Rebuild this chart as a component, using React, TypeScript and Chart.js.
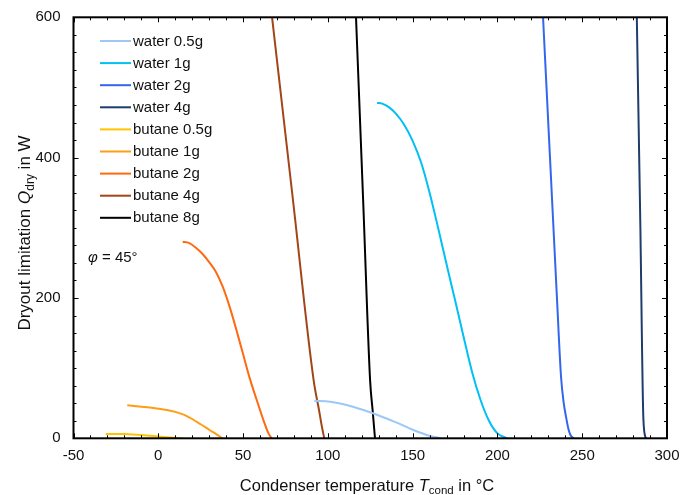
import React, { useEffect, useRef } from "react";
import { Chart, registerables } from "chart.js";

Chart.register(...registerables);

const FONT = '"Liberation Sans", Arial, Helvetica, sans-serif';

// ---- data ----
const seriesLabels = [
  "water 0.5g",
  "water 1g",
  "water 2g",
  "water 4g",
  "butane 0.5g",
  "butane 1g",
  "butane 2g",
  "butane 4g",
  "butane 8g",
];
const seriesColors = [
  "#9CC8F5",
  "#00C0F5",
  "#3366EE",
  "#1F3D6B",
  "#FFC400",
  "#FF9E14",
  "#FF6A10",
  "#A2461A",
  "#000000",
];

const water05T = [92, 101.3, 111.1, 121, 130.8, 140.6, 150.4, 160.3, 166.8];
const water05Q = [53.6, 52.2, 47.5, 40.3, 31.8, 22.3, 11.8, 3.3, 0];

const water1T = [129, 132, 136, 140, 145, 150, 155, 160, 165, 170, 175, 180, 185, 190, 195, 200, 205.7];
const water1Q = [478, 477, 472, 463, 447, 424, 393, 350, 300, 248, 197, 145, 95, 55, 25, 7, 0];

const water2T = [226.9, 231, 235, 237.5, 239, 240.5, 241.8, 243, 244.8];
const water2Q = [600, 400, 205, 88, 52, 30, 14, 5, 0];

const water4T = [282.2, 284.3, 286.1, 287.5];
const water4Q = [600, 300, 26, 0];

const butane05T = [-31, -25, -20, -15, -10, -5, 0, 5, 10, 14];
const butane05Q = [6.1, 6.2, 6.0, 5.5, 4.7, 3.7, 2.6, 1.6, 0.7, 0];

const butane1T = [-18.3, -10, -5, 0, 5, 10, 15, 20, 25, 30, 35, 37.8];
const butane1Q = [47, 45, 43.8, 42.2, 40.3, 37.7, 33.8, 27.5, 20, 12.2, 4.5, 0];

const butane2T = [14.4, 18, 22, 26, 30, 34, 38, 42, 46, 50, 54, 58, 62, 65, 66.9];
const butane2Q = [280.2, 278.5, 272, 263, 251, 237, 216, 188, 155, 120, 85, 55, 26, 7, 0];

const butane4T = [67.1, 79.4, 91.6, 94.8, 96.6, 97.9];
const butane4Q = [600, 340, 83, 40, 15, 0];

const butane8T = [116.6, 120.8, 124.9, 126.4, 127.8];
const butane8Q = [600, 340, 83, 40, 0];

const seriesT = [water05T, water1T, water2T, water4T, butane05T, butane1T, butane2T, butane4T, butane8T];
const seriesQ = [water05Q, water1Q, water2Q, water4Q, butane05Q, butane1Q, butane2Q, butane4Q, butane8Q];

const xMin = -50;
const xMax = 300;
const xStep = 50;
const xMinorStep = 10;
const yMin = 0;
const yMax = 600;
const yStep = 200;
const yMinorStep = 25;

const annotationPhi = "φ";
const annotationRest = " = 45°";
const xTitleMain = "Condenser temperature ";
const xTitleVar = "T";
const xTitleSub = "cond";
const xTitleEnd = " in °C";
const yTitleMain = "Dryout limitation ";
const yTitleVar = "Q";
const yTitleSub = "dry";
const yTitleEnd = " in W";

// ---- plugins ----
const framePlugin = {
  id: "frameTicks",
  afterDatasetsDraw(chart: any) {
    const { ctx, chartArea, scales } = chart;
    const { left, right, top, bottom } = chartArea;
    const xs = scales.x;
    const ys = scales.y;
    ctx.save();
    ctx.strokeStyle = "#000";
    ctx.lineWidth = 1;
    ctx.beginPath();
    for (let v = xMin; v <= xMax + 1e-9; v += xMinorStep) {
      const px = Math.round(xs.getPixelForValue(v)) + 0.5;
      const len = Math.abs(v % xStep) < 1e-9 ? 5 : 3;
      ctx.moveTo(px, bottom);
      ctx.lineTo(px, bottom - len);
      ctx.moveTo(px, top);
      ctx.lineTo(px, top + len);
    }
    for (let v = yMin; v <= yMax + 1e-9; v += yMinorStep) {
      const py = Math.round(ys.getPixelForValue(v)) + 0.5;
      const len = Math.abs(v % yStep) < 1e-9 ? 5 : 3;
      ctx.moveTo(left, py);
      ctx.lineTo(left + len, py);
      ctx.moveTo(right, py);
      ctx.lineTo(right - len, py);
    }
    ctx.stroke();
    ctx.lineWidth = 2;
    ctx.strokeRect(left, top, right - left, bottom - top);
    ctx.restore();
  },
  afterDraw(chart: any) {
    const { ctx } = chart;
    ctx.save();
    // legend
    const datasets = chart.data.datasets;
    ctx.font = `15px ${FONT}`;
    ctx.textBaseline = "middle";
    ctx.textAlign = "left";
    datasets.forEach((ds: any, i: number) => {
      const yy = 41 + i * 22.1;
      ctx.strokeStyle = ds.borderColor;
      ctx.lineWidth = 2;
      ctx.beginPath();
      ctx.moveTo(100, yy);
      ctx.lineTo(131, yy);
      ctx.stroke();
      ctx.fillStyle = "#111";
      ctx.fillText(ds.label, 133, yy + 0.5);
    });

    // phi annotation
    ctx.textBaseline = "alphabetic";
    ctx.fillStyle = "#111";
    ctx.font = `italic 15px ${FONT}`;
    ctx.fillText(annotationPhi, 88, 262);
    const wPhi = ctx.measureText(annotationPhi).width;
    ctx.font = `15px ${FONT}`;
    ctx.fillText(annotationRest, 88 + wPhi, 262);

    // x title
    const xMainF = `16.5px ${FONT}`;
    const xItalF = `italic 16.5px ${FONT}`;
    const xSubF = `11.5px ${FONT}`;
    const parts = [
      { t: xTitleMain, f: xMainF, dy: 0 },
      { t: xTitleVar, f: xItalF, dy: 0 },
      { t: xTitleSub, f: xSubF, dy: 3.5 },
      { t: xTitleEnd, f: xMainF, dy: 0 },
    ];
    let total = 0;
    parts.forEach((p) => {
      ctx.font = p.f;
      total += ctx.measureText(p.t).width;
    });
    let cx = 367 - total / 2;
    parts.forEach((p) => {
      ctx.font = p.f;
      ctx.fillText(p.t, cx, 490.5 + p.dy);
      cx += ctx.measureText(p.t).width;
    });

    // y title (rotated)
    const yMainF = `17px ${FONT}`;
    const yItalF = `italic 17px ${FONT}`;
    const ySubF = `12px ${FONT}`;
    const yparts = [
      { t: yTitleMain, f: yMainF, dy: 0 },
      { t: yTitleVar, f: yItalF, dy: 0 },
      { t: yTitleSub, f: ySubF, dy: 3.5 },
      { t: yTitleEnd, f: yMainF, dy: 0 },
    ];
    let ytotal = 0;
    yparts.forEach((p) => {
      ctx.font = p.f;
      ytotal += ctx.measureText(p.t).width;
    });
    ctx.translate(30, 233);
    ctx.rotate(-Math.PI / 2);
    let cy = -ytotal / 2;
    yparts.forEach((p) => {
      ctx.font = p.f;
      ctx.fillText(p.t, cy, p.dy);
      cy += ctx.measureText(p.t).width;
    });
    ctx.restore();
  },
};

const zeroPadding = (scale: any) => {
  scale.paddingLeft = 0;
  scale.paddingRight = 0;
  scale.paddingTop = 0;
  scale.paddingBottom = 0;
};

export default function App() {
  const canvasRef = useRef<HTMLCanvasElement | null>(null);

  useEffect(() => {
    if (!canvasRef.current) return;
    const datasets = seriesLabels.map((label, i) => ({
      label,
      data: seriesT[i].map((t, j) => ({ x: t, y: seriesQ[i][j] })),
      borderColor: seriesColors[i],
      backgroundColor: seriesColors[i],
      borderWidth: 2,
      pointRadius: 0,
      pointHoverRadius: 0,
      fill: false,
      tension: 0.4,
      cubicInterpolationMode: "monotone" as const,
    }));

    const chart = new Chart(canvasRef.current, {
      type: "line",
      data: { datasets },
      options: {
        animation: false,
        responsive: true,
        maintainAspectRatio: false,
        layout: { padding: { left: 0, top: 17.3, right: 14, bottom: 0 } },
        plugins: {
          legend: { display: false },
          tooltip: { enabled: false },
          title: { display: false },
        },
        scales: {
          x: {
            type: "linear",
            min: xMin,
            max: xMax,
            grid: { display: false, drawTicks: false },
            border: { display: false },
            ticks: {
              stepSize: xStep,
              padding: 9,
              color: "#111",
              font: { family: FONT, size: 15 },
              maxRotation: 0,
            },
            afterFit: (scale: any) => {
              scale.height = 56.7;
              zeroPadding(scale);
            },
          },
          y: {
            type: "linear",
            min: yMin,
            max: yMax,
            grid: { display: false, drawTicks: false },
            border: { display: false },
            ticks: {
              stepSize: yStep,
              padding: 13,
              color: "#111",
              font: { family: FONT, size: 15 },
            },
            afterFit: (scale: any) => {
              scale.width = 73.5;
              zeroPadding(scale);
            },
          },
        },
      },
      plugins: [framePlugin],
    });
    return () => chart.destroy();
  }, []);

  return (
    <div style={{ position: "fixed", left: 0, top: 0, width: 681, height: 495, background: "#fff" }}>
      <canvas ref={canvasRef} />
    </div>
  );
}
